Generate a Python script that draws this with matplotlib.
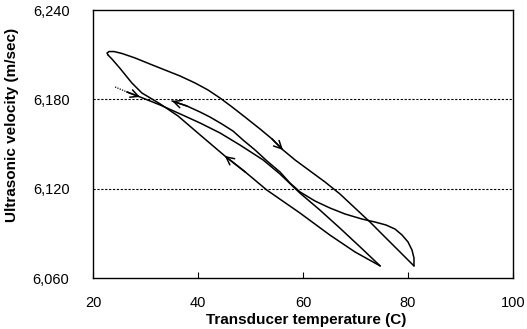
import matplotlib
matplotlib.use("Agg")
import matplotlib.pyplot as plt

# ---- data ----
# dotted lead-in
start_t = [24.2, 26.5]
start_v = [6188.3, 6184.9]
# heating 1: ~27 C -> 75 C
heat1_t = [26.5, 28.95, 32.8, 36.6, 40.4, 44.2, 48.0, 52.4, 55.6, 59.4, 63.2, 67.0, 70.9, 74.7]
heat1_v = [6184.9, 6181.6, 6176.2, 6170.2, 6164.1, 6157.4, 6149.3, 6139.3, 6129.9, 6117.1, 6105.7, 6093.6, 6080.8, 6068.1]
# cooling 1: 75 C -> 23 C
cool1_t = [74.7, 69.9, 65.1, 59.4, 53.1, 49.0, 45.1, 40.4, 36.2, 32.8, 29.3, 27.4, 25.1, 23.6, 22.86]
cool1_v = [6068.1, 6077.5, 6088.9, 6103.7, 6119.1, 6131.2, 6142.0, 6156.1, 6168.8, 6176.9, 6184.3, 6191.0, 6201.0, 6207.1, 6209.8]
# heating 2: 23 C -> 81 C
heat2_t = [22.86, 22.67, 23.05, 24.0, 25.52, 28.0, 30.86, 33.71, 36.57, 39.43, 41.9, 44.19, 46.48, 48.95,
           51.81, 54.1, 56.19, 58.48, 61.33, 64.19, 67.05, 69.9, 72.76, 75.62, 78.1, 80.0, 81.14]
heat2_v = [6209.8, 6211.1, 6212.1, 6212.1, 6210.8, 6207.8, 6203.7, 6199.7, 6195.7, 6191.0, 6186.3, 6180.9,
           6174.9, 6168.1, 6160.1, 6153.4, 6146.0, 6139.3, 6131.9, 6124.5, 6116.4, 6107.0, 6097.6, 6087.5,
           6078.8, 6072.1, 6068.1]
# cooling 2: 81 C -> ~35 C
cool2_t = [81.14, 81.14, 80.76, 80.0, 78.86, 77.52, 75.81, 73.71, 71.24, 68.0, 65.14, 62.29, 59.43, 57.52,
           55.62, 53.14, 50.86, 48.57, 46.67, 44.57, 42.29, 40.38, 37.9, 35.05]
cool2_v = [6068.1, 6073.4, 6078.8, 6084.2, 6088.9, 6092.9, 6095.6, 6097.6, 6099.6, 6103.0, 6107.0, 6111.7,
           6117.8, 6123.8, 6131.2, 6138.6, 6146.0, 6152.7, 6158.7, 6163.4, 6168.1, 6171.5, 6175.5, 6178.9]

grid_levels = [6120, 6180]
xticks = [20, 40, 60, 80, 100]
yticks = [6060, 6120, 6180, 6240]
ytick_labels = ["6,060", "6,120", "6,180", "6,240"]

plt.rcParams['font.family'] = ['Liberation Sans', 'DejaVu Sans']

fig = plt.figure(figsize=(5.27, 3.29), dpi=100)
ax = fig.add_axes([93/527, 1-278/329, 420/527, 268/329])

for lv in grid_levels:
    ax.axhline(lv, color='black', lw=0.8, ls=(0, (2, 1.5)), zorder=1)

lw = 1.1
ax.plot(start_t, start_v, color='black', lw=0.9, ls=(0, (1, 1)))
for t, v in [(heat1_t, heat1_v), (cool1_t, cool1_v), (heat2_t, heat2_v), (cool2_t, cool2_v)]:
    ax.plot(t, v, color='black', lw=lw, solid_joinstyle='round', solid_capstyle='round')

def arrow(t, v, i):
    ax.annotate('', xy=(t[i], v[i]), xytext=(t[i-1], v[i-1]),
                arrowprops=dict(arrowstyle='->', color='black', lw=1.1,
                                mutation_scale=14, shrinkA=0, shrinkB=0))

arrow(heat1_t, heat1_v, 1)
arrow(cool1_t, cool1_v, 6)
arrow(heat2_t, heat2_v, 16)
arrow(cool2_t, cool2_v, len(cool2_t) - 1)

ax.set_xlim(20, 100)
ax.set_ylim(6060, 6240)
ax.set_xticks(xticks)
ax.set_yticks(yticks)
ax.set_yticklabels(ytick_labels)
ax.tick_params(axis='x', direction='in', length=4, pad=13, labelsize=10.5, colors='black')
ax.tick_params(axis='y', direction='in', length=0, pad=17, labelsize=10.5)
for s in ax.spines.values():
    s.set_linewidth(1.0)

ax.set_xlabel('Transducer temperature (C)', fontsize=11, fontweight='bold', va='center')
ax.set_ylabel('Ultrasonic velocity (m/sec)', fontsize=11, fontweight='bold', va='center')
ax.xaxis.set_label_coords(0.507, -0.157)
ax.yaxis.set_label_coords(-0.193, 0.571)

fig.savefig('out.png', dpi=100)
